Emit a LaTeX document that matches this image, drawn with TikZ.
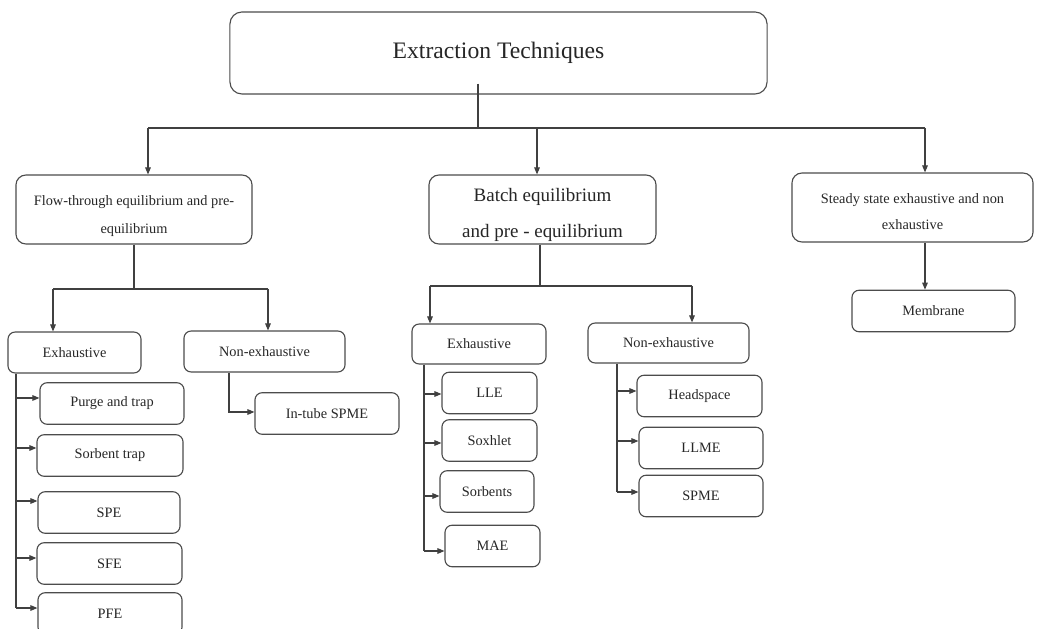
\documentclass[tikz,border=0pt]{standalone}
\usepackage{fontspec}
\setmainfont{Liberation Serif}
\usetikzlibrary{arrows,arrows.meta}

\tikzset{
  box/.style={draw=black!70, line width=0.8pt, rounded corners=0.18cm, text=black!85,
    font=\fontsize{10.2}{12}\selectfont, align=center, inner sep=2pt},
  leaf/.style={box, minimum height=1.04cm},
  link/.style={draw=black!75, line width=0.8pt},
  >={Triangle[length=5pt,width=4pt]}
}

\begin{document}
\begin{tikzpicture}[x=0.025cm,y=-0.025cm]
\path[use as bounding box, clip] (0,0) rectangle (1041,629);

% top level
\node[box, rounded corners=0.3cm, minimum width=13.425cm, minimum height=2.05cm,
  font=\fontsize{16.8}{20}\selectfont] (title) at (498.5,53) {Extraction Techniques};
\node[box, rounded corners=0.25cm, minimum width=5.9cm, minimum height=1.725cm,
  font=\fontsize{10.2}{20}\selectfont] (flow) at (134,209.5) {\rule{0pt}{17pt}Flow-through equilibrium and pre-\\equilibrium};
\node[box, rounded corners=0.25cm, minimum width=5.675cm, minimum height=1.725cm, inner ysep=0pt,
  font=\fontsize{13.5}{25.5}\selectfont] (batch) at (542.5,209.5) {\rule{0pt}{17pt}Batch equilibrium\\and pre - equilibrium};
\node[box, rounded corners=0.25cm, minimum width=6.025cm, minimum height=1.725cm,
  font=\fontsize{10.2}{18.4}\selectfont] (steady) at (912.5,207.5) {\rule{0pt}{13.5pt}Steady state exhaustive and non\\exhaustive};
\node[leaf, minimum width=4.075cm] (membrane) at (933.5,311) {Membrane};

% second level
\node[leaf, minimum width=3.325cm, minimum height=1.025cm] (fexh) at (74.5,352.5) {Exhaustive};
\node[leaf, minimum width=4.025cm, minimum height=1.025cm] (fnon) at (264.5,351.5) {Non-exhaustive};
\node[leaf, minimum width=3.35cm, minimum height=1cm] (bexh) at (479,344) {Exhaustive};
\node[leaf, minimum width=4.025cm, minimum height=1cm] (bnon) at (668.5,343) {Non-exhaustive};

% leaves
\node[leaf, minimum width=3.6cm] (purge) at (112,403.5) {Purge and trap};
\node[leaf, minimum width=3.65cm] (sorbtrap) at (110,455.5) {Sorbent trap};
\node[leaf, minimum width=3.55cm] (spe) at (109,512.5) {SPE};
\node[leaf, minimum width=3.625cm] (sfe) at (109.5,563.5) {SFE};
\node[leaf, minimum width=3.6cm] (pfe) at (110,613.5) {PFE};
\node[leaf, minimum width=3.6cm] (intube) at (327,413.5) {In-tube SPME};
\node[leaf, minimum width=2.375cm] (lle) at (489.5,393) {LLE};
\node[leaf, minimum width=2.375cm] (soxhlet) at (489.5,440.5) {Soxhlet};
\node[leaf, minimum width=2.35cm] (sorbents) at (487,491.5) {Sorbents};
\node[leaf, minimum width=2.375cm] (mae) at (492.5,546) {MAE};
\node[leaf, minimum width=3.125cm] (headspace) at (699.5,396) {Headspace};
\node[leaf, minimum width=3.1cm] (llme) at (701,448) {LLME};
\node[leaf, minimum width=3.1cm] (spme) at (701,496) {SPME};

% main bus
\coordinate (bus) at (478,128);
\coordinate (bl) at (148,128);
\coordinate (bm) at (537,128);
\coordinate (br) at (925,128);
\draw[link] (title.south -| bus) ++(0,-11) -- (bus);
\draw[link] (bl) -- (br);
\draw[link,->] (bl) -- (bl |- flow.north);
\draw[link,->] (bm) -- (bm |- batch.north);
\draw[link,->] (br) -- (br |- steady.north);
\draw[link,->] (steady.south -| br) -- (membrane.north -| br);

% flow-through branch
\coordinate (fs) at (134,289);
\coordinate (fl) at (53,289);
\coordinate (fr) at (268,289);
\draw[link] (flow.south) -- (fs);
\draw[link] (fl) -- (fr);
\draw[link,->] (fl) -- (fl |- fexh.north);
\draw[link,->] (fr) -- (fr |- fnon.north);
\draw[link] (fexh.south -| 16,0) -- (16,608);
\foreach \n/\y in {purge/398,sorbtrap/448,spe/501,sfe/558,pfe/608}
  \draw[link,->] (16,\y) -- (\n.west |- 0,\y);
\draw[link,->] (fnon.south -| 229,0) |- (intube.west |- 0,412);

% batch branch
\coordinate (bs) at (540,286);
\coordinate (bxl) at (430,286);
\coordinate (bxr) at (692,286);
\draw[link] (batch.south -| bs) -- (bs);
\draw[link] (bxl) -- (bxr);
\draw[link,->] (bxl) -- (bxl |- bexh.north);
\draw[link,->] (bxr) -- (bxr |- bnon.north);
\draw[link] (bexh.south -| 424,0) -- (424,551);
\foreach \n/\y in {lle/394,soxhlet/443,sorbents/496,mae/551}
  \draw[link,->] (424,\y) -- (\n.west |- 0,\y);
\draw[link] (bnon.south -| 617,0) -- (617,492);
\foreach \n/\y in {headspace/391,llme/441,spme/492}
  \draw[link,->] (617,\y) -- (\n.west |- 0,\y);
\end{tikzpicture}
\end{document}
